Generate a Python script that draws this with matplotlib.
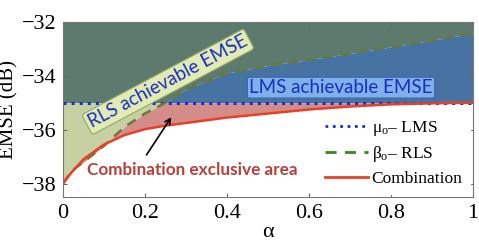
import numpy as np
import matplotlib
matplotlib.use("Agg")
import matplotlib.pyplot as plt
from matplotlib.lines import Line2D

plt.rcParams['font.family'] = ['Liberation Serif', 'DejaVu Serif']
plt.rcParams['mathtext.fontset'] = 'custom'
plt.rcParams['mathtext.rm'] = 'Liberation Serif'
plt.rcParams['mathtext.it'] = 'Liberation Serif'

# data
alpha = [0, 0.02, 0.05, 0.1, 0.15, 0.2, 0.25, 0.3, 0.4, 0.5, 0.6, 0.7, 0.8, 0.9, 1.0]
emse_rls = [-38.0, -37.55, -37.2, -36.6, -35.9, -35.4, -35.0, -34.5,
            -33.9, -33.62, -33.4, -33.17, -32.93, -32.68, -32.42]
emse_comb = [-38.0, -37.6, -37.1, -36.55, -36.2, -35.98, -35.85, -35.75,
             -35.55, -35.4, -35.25, -35.14, -35.06, -35.02, -35.0]
emse_lms = -35.0

a = np.array(alpha)
rls = np.array(emse_rls)
comb = np.array(emse_comb)
lms = np.full_like(a, emse_lms)
top = -32.0

fig = plt.figure(figsize=(4.79, 2.46), dpi=100)
ax = fig.add_axes([0.1315, 0.199, 0.856, 0.712])

# regions
upper = np.maximum(rls, lms)
ax.fill_between(a, upper, top, color='#5c7b6e', lw=0)
ax.fill_between(a, lms, rls, where=rls >= lms, interpolate=True, color='#4673a2', lw=0)
ax.fill_between(a, rls, lms, where=rls <= lms, interpolate=True, color='#c5d0a3', lw=0)
ax.fill_between(a, comb, np.minimum(rls, lms), color='#d48c88', lw=0)

# curves
ax.plot(a, lms, color='#1a2fd0', ls=':', lw=2.2)
ax.plot(a, rls, color='#6a7a35', ls=(0, (4, 3)), lw=1.8)
ax.plot(a, comb, color='#ea3f26', lw=1.8)

# annotations
ax.text(0.256, -34.22, 'RLS achievable EMSE', rotation=28, ha='center', va='center',
        family='Lato', fontsize=13.5, color='#1a2fbf',
        bbox=dict(boxstyle='round,pad=0.15', fc='#e3ebb5', ec='#98a860', lw=0.8))
ax.text(0.678, -34.44, 'LMS achievable EMSE', ha='center', va='center',
        family='Lato', fontsize=13.5, color='#1a2fbf',
        bbox=dict(boxstyle='round,pad=0.1', fc='#7fb0ea', ec='#3a6ab0', lw=0.8))
ax.annotate('', xy=(0.268, -35.45), xytext=(0.2, -37.02),
            arrowprops=dict(arrowstyle='->', color='black', lw=1.2))
ax.text(0.315, -37.5, 'Combination exclusive area', ha='center', va='center',
        family='Lato', fontsize=12.3, fontweight='bold', color='#b5403a')

ax.set_xlim(0, 1)
ax.set_ylim(-38.5, -32)
ax.set_xticks([0, 0.2, 0.4, 0.6, 0.8, 1])
ax.set_xticklabels(['0', '0.2', '0.4', '0.6', '0.8', '1'])
ax.set_yticks([-38, -36, -34, -32])
ax.set_yticklabels(['\u221238', '\u221236', '\u221234', '\u221232'])
ax.tick_params(direction='in', top=True, right=True, labelsize=16, length=3,
               color='#666666', pad=5)
for s in ax.spines.values():
    s.set_color('#777777')
ax.set_xlabel('\u03b1', fontsize=16, labelpad=0)
ax.set_ylabel('EMSE (dB)', fontsize=15, labelpad=2)

handles = [Line2D([], [], color='#1a2fd0', ls=':', lw=2),
           Line2D([], [], color='#3a8a1a', ls=(0, (4, 3)), lw=2),
           Line2D([], [], color='#ea3f26', lw=2)]
labels = [r'$\mathrm{\mu_o}$' + '\u2013 LMS',
          r'$\mathrm{\beta_o}$' + '\u2013 RLS',
          'Combination']
leg = ax.legend(handles, labels, loc='lower right', fontsize=12.5, frameon=True,
                fancybox=False, edgecolor='white', framealpha=1,
                handlelength=2.5, handletextpad=0.2, borderaxespad=0.2,
                labelspacing=0.35)

fig.savefig('out.png', dpi=100)
